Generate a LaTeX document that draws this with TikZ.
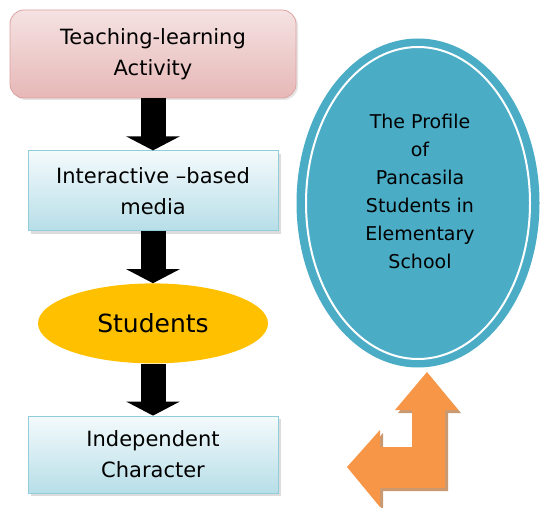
\documentclass[tikz,border=0pt]{standalone}
\usepackage{fontspec}
\setmainfont{DejaVu Sans}
\usetikzlibrary{positioning,shapes.geometric,shadows,arrows.meta}
\definecolor{pinktop}{HTML}{F5E2E2}
\definecolor{pinkbot}{HTML}{E6B8B7}
\definecolor{pinkline}{HTML}{DCA2A1}
\definecolor{bluetop}{HTML}{F4FAFC}
\definecolor{bluebot}{HTML}{B7DEE8}
\definecolor{blueline}{HTML}{92CDDC}
\definecolor{gold}{HTML}{FFC000}
\definecolor{profblue}{HTML}{4BACC6}
\definecolor{arroworange}{HTML}{F79646}
\definecolor{arrowshade}{HTML}{C99A72}
\tikzset{pinkbox/.style={rectangle,rounded corners=14pt,draw=pinkline,thick,top color=pinktop,bottom color=pinkbot,minimum width=286pt,minimum height=88pt,align=center,font=\fontsize{21}{31}\selectfont,drop shadow={shadow xshift=2pt,shadow yshift=-2pt,fill=gray!40}}}
\tikzset{bluebox/.style={rectangle,draw=blueline,thick,top color=bluetop,bottom color=bluebot,minimum width=250pt,minimum height=80pt,align=center,font=\fontsize{21}{31}\selectfont,drop shadow={shadow xshift=3pt,shadow yshift=-3pt,fill=gray!55}}}
\tikzset{goldell/.style={ellipse,fill=gold,minimum width=230pt,minimum height=80pt,inner sep=0pt,font=\fontsize{25}{28}\selectfont}}
\tikzset{profell/.style={ellipse,fill=profblue,minimum width=243pt,minimum height=329pt,inner sep=0pt}}
\tikzset{proftext/.style={align=center,inner sep=0pt,font=\fontsize{19}{28}\selectfont}}
\tikzset{toArrow/.style={{Triangle[width=53pt,length=14pt]}-,line width=25pt}}

\begin{document}
\begin{tikzpicture}[x=1pt,y=1pt]
\useasboundingbox (0,0) rectangle (543,507);
\begin{scope}[node distance=52pt]
	\node (activity) [pinkbox] at (153,453) {Teaching-learning\\Activity} ;
	\node (media) [bluebox, below =of activity] {Interactive –based\\media} edge [toArrow] (activity) ;
	\node (students) [goldell, below =of media] {Students} edge [toArrow] (media) ;
	\node (character) [bluebox, minimum height=77pt, below =of students] {Independent\\Character} edge [toArrow] (students) ;
	\node (profile) [profell] at (418,304) {} ;
	\draw [white,line width=2pt] (profile.center) ellipse [x radius=112pt, y radius=156pt] ;
	\node (profiletext) [proftext] at ([xshift=2pt,yshift=12pt]profile.center) {The Profile\\of\\Pancasila\\Students in\\Elementary\\School} ;
\end{scope}
% bent arrow pointing up to the profile
\fill [arrowshade] (429,132) -- (461,94) -- (448,94) -- (448,16) -- (383,16) -- (383,-3) -- (350,37) -- (383,74) -- (383,57) -- (415,57) -- (415,94) -- (398,94) -- cycle ;
\fill [arroworange] (427,135) -- (458,97) -- (445,97) -- (445,19) -- (380,19) -- (380,0) -- (347,40) -- (380,77) -- (380,60) -- (412,60) -- (412,97) -- (395,97) -- cycle ;
\end{tikzpicture}
\end{document}
